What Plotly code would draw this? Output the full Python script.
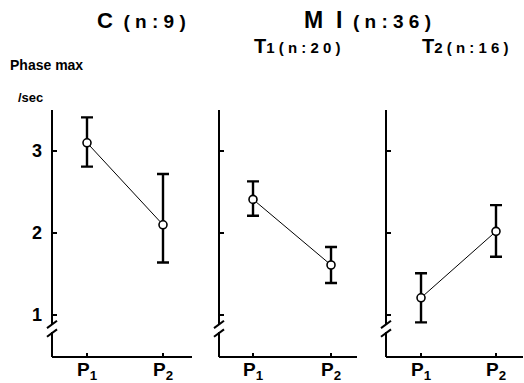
import plotly.graph_objects as go

# ---- data ----
periods = ["P<sub>1</sub>", "P<sub>2</sub>"]
x_pos = [0, 1]
mean_C = [3.10, 2.10]
upper_C = [3.41, 2.72]
lower_C = [2.81, 1.64]
mean_T1 = [2.41, 1.61]
upper_T1 = [2.63, 1.83]
lower_T1 = [2.21, 1.39]
mean_T2 = [1.21, 2.02]
upper_T2 = [1.51, 2.34]
lower_T2 = [0.91, 1.71]
y_ticks = [1, 2, 3]
y_ticktext = ["1", "2", "3"]

W, H = 524, 383
FONT = "Liberation Sans, Arial, sans-serif"
NB = "\u00a0"

def px_x(p):
    return p / W

def px_y(p):
    return 1 - p / H

# panel geometry (pixels)
dom = [(52, 192), (219, 357), (386, 523)]
xr = [(-0.4605, 1.3816), (-0.436, 1.333), (-0.467, 1.36)]
y_top, y_bot = 110, 357
y_range = [0.488, 3.5]

series = [(mean_C, upper_C, lower_C), (mean_T1, upper_T1, lower_T1), (mean_T2, upper_T2, lower_T2)]

fig = go.Figure()
for i, (m, u, l) in enumerate(series):
    ax = "" if i == 0 else str(i + 1)
    fig.add_trace(go.Scatter(
        x=x_pos, y=m, mode="lines+markers",
        xaxis="x" + ax, yaxis="y" + ax,
        line=dict(color="black", width=1),
        marker=dict(symbol="circle", size=8, color="white", line=dict(color="black", width=1.6)),
        error_y=dict(type="data", symmetric=False,
                     array=[a - b for a, b in zip(u, m)],
                     arrayminus=[b - c for b, c in zip(m, l)],
                     color="black", thickness=2.4, width=6),
        showlegend=False, cliponaxis=False,
    ))

layout = dict(
    width=W, height=H, margin=dict(l=0, r=0, t=0, b=0, autoexpand=False),
    paper_bgcolor="white", plot_bgcolor="white",
    font=dict(family=FONT, color="black"),
)
shapes = []
ann = []
for i in range(3):
    ax = "" if i == 0 else str(i + 1)
    d0, d1 = dom[i]
    layout["xaxis" + ax] = dict(
        domain=[px_x(d0), px_x(d1)], range=list(xr[i]),
        anchor="y" + ax, showgrid=False, zeroline=False,
        showline=False,
        ticks="inside", ticklen=4, tickwidth=1.5, tickcolor="black",
        tickvals=x_pos, showticklabels=False,
        fixedrange=True, automargin=False,
    )
    layout["yaxis" + ax] = dict(
        domain=[px_y(y_bot), px_y(y_top)], range=y_range,
        anchor="x" + ax, showgrid=False, zeroline=False, showline=False,
        ticks="inside", ticklen=5, tickwidth=1.5, tickcolor="black",
        tickvals=y_ticks, ticktext=y_ticktext, showticklabels=(i == 0),
        ticklabelstandoff=9,
        tickfont=dict(size=18, family=FONT, color="black", weight="bold"),
        fixedrange=True, automargin=False,
    )
    xref = "x" + ax + " domain"
    yref = "y" + ax
    wpx = d1 - d0
    # x-axis line
    shapes.append(dict(type="line", xref=xref, yref="y" + ax + " domain", x0=0, x1=1, y0=0, y1=0,
                       line=dict(color="black", width=2)))
    # y-axis line with a break
    shapes.append(dict(type="line", xref=xref, yref=yref, x0=0, x1=0, y0=0.878, y1=y_range[1],
                       line=dict(color="black", width=2)))
    shapes.append(dict(type="line", xref=xref, yref=yref, x0=0, x1=0, y0=y_range[0], y1=0.793,
                       line=dict(color="black", width=2)))
    for yc in (0.885, 0.78):
        shapes.append(dict(type="line", xref=xref, yref=yref,
                           x0=-5 / wpx, x1=5 / wpx, y0=yc - 0.045, y1=yc + 0.045,
                           line=dict(color="black", width=2)))
    # category labels under the axis
    for xv, lab in zip(x_pos, periods):
        ann.append(dict(x=xv, y=px_y(371), xref="x" + ax, yref="paper", text="<b>" + lab + "</b>",
                        showarrow=False, xanchor="center", yanchor="middle",
                        font=dict(size=19, family=FONT, color="black")))
layout["shapes"] = shapes

def text(x, y, s, size, anchor="center"):
    ann.append(dict(x=px_x(x), y=px_y(y), xref="paper", yref="paper", text=s, showarrow=False,
                    xanchor=anchor, yanchor="middle", borderpad=0,
                    font=dict(size=size, family=FONT, color="black")))

text(141, 20, f"<b><span style='font-size:22px'>C</span>{NB}{NB}({NB}n{NB}:{NB}9{NB})</b>", 19)
text(367, 20, f"<b><span style='font-size:23px'>M{NB}{NB}I</span>{NB}{NB}({NB}n{NB}:{NB}3{NB}6{NB})</b>", 19)
text(297, 46, f"<b><span style='font-size:20px'>T</span>1{NB}({NB}n{NB}:{NB}2{NB}0{NB})</b>", 15)
text(465, 46, f"<b><span style='font-size:20px'>T</span>2{NB}({NB}n{NB}:{NB}1{NB}6{NB})</b>", 15)
text(9, 65, "<b>Phase max</b>", 14, "left")
text(17, 97, "<b>/sec</b>", 13, "left")
layout["annotations"] = ann

fig.update_layout(**layout)
fig.write_html("out.html", config={"displayModeBar": False},
               post_script="document.body.style.margin='0';document.body.style.overflow='hidden';")
